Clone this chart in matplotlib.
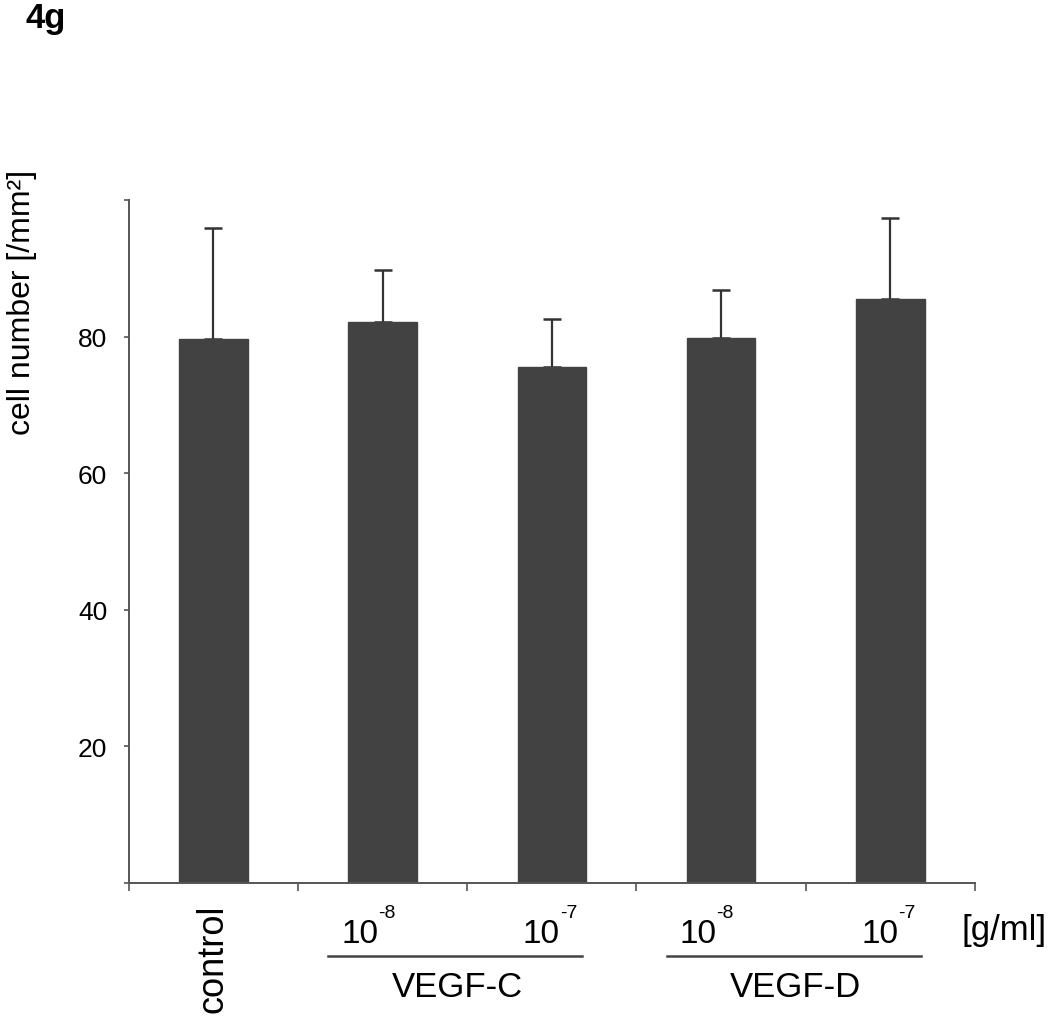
import matplotlib
matplotlib.use("Agg")
import matplotlib.pyplot as plt
from matplotlib.transforms import blended_transform_factory
from matplotlib.lines import Line2D

plt.rcParams['font.family'] = ['Liberation Sans', 'DejaVu Sans']

# ---- data ----
categories = ["control", "VEGF-C 1e-8", "VEGF-C 1e-7", "VEGF-D 1e-8", "VEGF-D 1e-7"]
means = [79.6, 82.1, 75.5, 79.8, 85.5]
upper_err = [16.3, 7.6, 7.1, 7.0, 11.9]
yticks = [0, 20, 40, 60, 80, 100]
ytick_labels = ["", "20", "40", "60", "80", ""]
groups = ["VEGF-C", "VEGF-D"]
conc_labels = ["-8", "-7"]

W, H = 1050, 1020
fig = plt.figure(figsize=(W / 100, H / 100), dpi=100)
ax = fig.add_axes([128.7 / W, 1 - 884 / H, (975 - 128.7) / W, (884 - 201) / H])

dark = "#424242"
x = list(range(len(means)))
ax.bar(x, means, width=0.405, color=dark, edgecolor=dark, zorder=2)
ax.errorbar(x, means, yerr=[[0] * len(means), upper_err], fmt="none",
            ecolor="#333333", elinewidth=1.6, capsize=6.8, capthick=1.8, zorder=1)

ax.set_xlim(-0.5, 4.5)
ax.set_ylim(0, 100)
ax.set_yticks(yticks)
ax.set_yticklabels(ytick_labels, fontsize=19)
ax.set_xticks([i - 0.5 for i in range(len(means) + 1)])
ax.set_xticklabels([])
for s in ("top", "right"):
    ax.spines[s].set_visible(False)
for s in ("left", "bottom"):
    ax.spines[s].set_color("#555555")
    ax.spines[s].set_linewidth(1.4)
ax.tick_params(axis="y", direction="out", length=3.5, width=1.2, color="#555555", pad=12)
ax.tick_params(axis="x", direction="out", length=6, width=1.2, color="#555555")

# figure-level labels
fig.text(25 / W, 1 - 28 / H, "4g", fontsize=25, fontweight="bold", ha="left", va="baseline")
fig.text(22 / W, 1 - 302 / H, "cell number [/mm²]", rotation=90, fontsize=23,
         ha="center", va="center")

tr = blended_transform_factory(ax.transData, fig.transFigure)
ax.text(0, 1 - 905 / H, "control", rotation=90, fontsize=26, ha="center", va="top",
        transform=tr)

for g, gname in enumerate(groups):
    off = 2 * g
    # concentration labels
    for k, (xr, sup) in enumerate(zip([0.973, 2.048], conc_labels)):
        ax.text(xr + off, 1 - 943 / H, "10", fontsize=24, ha="right", va="baseline",
                transform=tr)
        ax.text(xr + off, 1 - 918 / H, sup, fontsize=14, ha="left", va="baseline",
                transform=tr)
    line = Line2D([0.68 + off, 2.18 + off], [1 - 957 / H, 1 - 957 / H], transform=tr,
                  color="#444444", lw=1.8, clip_on=False)
    ax.add_line(line)
    ax.text(1.44 + off, 1 - 997 / H, gname, fontsize=25, ha="center", va="baseline",
            transform=tr)

ax.text(4.42, 1 - 940 / H, "[g/ml]", fontsize=25, ha="left", va="baseline", transform=tr)

fig.savefig("out.png", dpi=100)
